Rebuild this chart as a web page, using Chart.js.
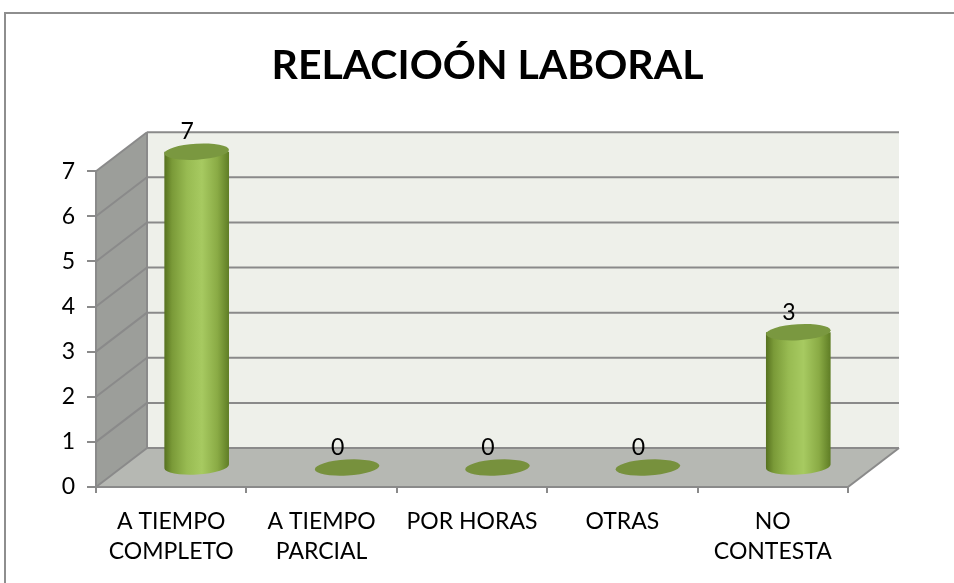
<!DOCTYPE html>
<html>
<head>
<meta charset="utf-8">
<script src="https://cdn.jsdelivr.net/npm/chart.js@4"></script>
<style>
  body { margin: 0; background: #fff; }
  canvas { display: block; }
</style>
</head>
<body>
<canvas id="grafico" width="954" height="583"></canvas>
<script>
// Datos del grafico
const categorias = [['A TIEMPO', 'COMPLETO'], ['A TIEMPO', 'PARCIAL'], 'POR HORAS', 'OTRAS', ['NO', 'CONTESTA']];
const valores = [7, 0, 0, 0, 3];
const marcasY = [0, 1, 2, 3, 4, 5, 6, 7];
const titulo = 'RELACIOÓN LABORAL';

// profundidad de la caja 3D
const fondoX = 51;
const fondoY = 39;
const fuente = 'Lato, "Liberation Sans", sans-serif';

function linea(ctx, x1, y1, x2, y2) {
    ctx.beginPath();
    ctx.moveTo(x1, y1);
    ctx.lineTo(x2, y2);
    ctx.stroke();
}

function poligono(ctx, puntos, color) {
    ctx.beginPath();
    puntos.forEach((p, i) => i ? ctx.lineTo(p[0], p[1]) : ctx.moveTo(p[0], p[1]));
    ctx.closePath();
    ctx.fillStyle = color;
    ctx.fill();
}

const caja3d = {
    id: 'caja3d',
    beforeDraw(chart) {
        const ctx = chart.ctx;
        const { left, right, top, bottom } = chart.chartArea;
        const escalaY = chart.scales.y;
        ctx.save();
        ctx.fillStyle = '#fff';
        ctx.fillRect(0, 0, chart.width, chart.height);
        ctx.strokeStyle = '#8e8e8e';
        ctx.lineWidth = 2;
        ctx.strokeRect(5, 13, chart.width + 20, chart.height + 20);

        // pared del fondo
        ctx.fillStyle = '#eef0ea';
        ctx.fillRect(left + fondoX, top - fondoY, right - left, bottom - top);
        // pared lateral
        poligono(ctx, [[left, bottom], [left + fondoX, bottom - fondoY], [left + fondoX, top - fondoY], [left, top]], '#9c9e9a');
        // piso
        poligono(ctx, [[left, bottom], [right, bottom], [right + fondoX, bottom - fondoY], [left + fondoX, bottom - fondoY]], '#b6b8b3');

        ctx.strokeStyle = '#8a8a8a';
        ctx.lineWidth = 2;
        marcasY.forEach(v => {
            const py = escalaY.getPixelForValue(v);
            linea(ctx, left, py, left + fondoX, py - fondoY);
            linea(ctx, left + fondoX, py - fondoY, right + fondoX, py - fondoY);
        });
        linea(ctx, left + fondoX, top - fondoY, left + fondoX, bottom - fondoY);
        linea(ctx, right, bottom, right + fondoX, bottom - fondoY);
        ctx.restore();
    }
};

function cilindro(ctx, cx, arriba, abajo, rx, ry) {
    const rot = -0.06;
    const g = ctx.createLinearGradient(cx - rx, 0, cx + rx, 0);
    g.addColorStop(0, '#56711f');
    g.addColorStop(0.12, '#7a9a38');
    g.addColorStop(0.35, '#98bb52');
    g.addColorStop(0.58, '#a7ca61');
    g.addColorStop(0.82, '#8aab45');
    g.addColorStop(1, '#5f7d25');
    ctx.beginPath();
    ctx.moveTo(cx - rx, arriba);
    ctx.lineTo(cx - rx, abajo);
    ctx.ellipse(cx, abajo, rx, ry, rot, Math.PI, 0, true);
    ctx.lineTo(cx + rx, arriba);
    ctx.closePath();
    ctx.fillStyle = g;
    ctx.fill();
    ctx.beginPath();
    ctx.ellipse(cx, arriba, rx, ry, rot, 0, Math.PI * 2);
    ctx.fillStyle = '#7a9840';
    ctx.fill();
}

const cilindros = {
    id: 'cilindros',
    afterDatasetsDraw(chart) {
        const ctx = chart.ctx;
        const meta = chart.getDatasetMeta(0);
        ctx.save();
        meta.data.forEach((bar, i) => {
            const cx = bar.x + fondoX / 2;
            const arriba = bar.y - fondoY / 2;
            const abajo = bar.base - fondoY / 2;
            const rx = bar.width / 2;
            if (valores[i] > 0) {
                cilindro(ctx, cx, arriba, abajo, rx, 8);
            } else {
                ctx.beginPath();
                ctx.ellipse(cx, abajo, rx, 8, -0.06, 0, Math.PI * 2);
                ctx.fillStyle = '#77913d';
                ctx.fill();
            }
            ctx.fillStyle = '#000';
            ctx.font = '23px ' + fuente;
            ctx.textAlign = 'center';
            ctx.textBaseline = 'middle';
            ctx.fillText(String(valores[i]), bar.x + 16, arriba - 20);
        });
        ctx.restore();
    }
};

new Chart(document.getElementById('grafico'), {
    type: 'bar',
    data: {
        labels: categorias,
        datasets: [{
            data: valores,
            backgroundColor: 'rgba(0,0,0,0)',
            categoryPercentage: 1,
            barPercentage: 0.43,
        }],
    },
    options: {
        responsive: false,
        animation: false,
        layout: { padding: { left: 21, right: 0, top: 0, bottom: 0 } },
        plugins: {
            legend: { display: false },
            tooltip: { enabled: false },
            title: {
                display: true,
                text: titulo,
                color: '#000',
                font: { family: fuente, size: 41, weight: 'bold', lineHeight: 1.2 },
                padding: { top: 41, bottom: 81 },
            },
        },
        scales: {
            x: {
                grid: { drawOnChartArea: false, tickLength: 6, color: '#8a8a8a', lineWidth: 2 },
                border: { color: '#8a8a8a', width: 2 },
                ticks: { color: '#000', padding: 14, font: { family: fuente, size: 23, lineHeight: 1.3 } },
                afterFit(scale) { scale.height = 96; },
            },
            y: {
                min: 0,
                max: 7,
                grid: { drawOnChartArea: false, tickLength: 9, color: '#8a8a8a', lineWidth: 2 },
                border: { color: '#8a8a8a', width: 2 },
                ticks: { stepSize: 1, color: '#000', padding: 12, font: { family: fuente, size: 23 } },
                afterFit(scale) { scale.width = 75; },
            },
            // margen derecho reservado para la profundidad de la caja
            margen: {
                type: 'linear',
                position: 'right',
                grid: { display: false },
                border: { display: false },
                ticks: { display: false },
                afterFit(scale) { scale.width = 106; },
            },
        },
    },
    plugins: [caja3d, cilindros],
});
</script>
</body>
</html>
